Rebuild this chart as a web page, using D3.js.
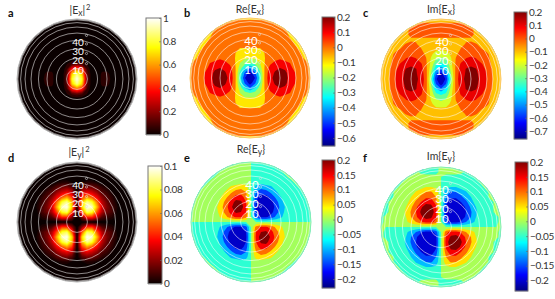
<!DOCTYPE html>
<html>
<head>
<meta charset="utf-8">
<script src="https://cdn.jsdelivr.net/npm/d3@7"></script>
<style>
  html, body { margin: 0; background: #fff; }
  text { font-family: Lato, "Open Sans", sans-serif; }
</style>
</head>
<body>
<div id="chart"></div>
<script>
// quadrant samples: row = distance from centre along y,
// column = distance along x, 13 samples from the centre to the rim
var fieldA = [
  [1.00,.80,.16,.00,.00,.07,.08,.035,.00,0,0,0,0],
  [.90,.70,.14,.01,.00,.065,.07,.025,.00,0,0,0,0],
  [.55,.42,.10,.00,.00,.03,.03,.00,0,0,0,0,0],
  [.14,.11,.05,.00,0,0,0,0,0,0,0,0,0],
  [.01,.01,.00,0,0,0,0,0,0,0,0,0,0],
  [0,0,0,0,0,0,0,0,0,0,0,0,0],
  [0,0,0,0,0,0,0,0,0,0,0,0,0],
  [0,0,0,0,0,0,0,0,0,0,0,0,0],
  [0,0,0,0,0,0,0,0,0,0,0,0,0],
  [0,0,0,0,0,0,0,0,0,0,0,0,0],
  [0,0,0,0,0,0,0,0,0,0,0,0,0],
  [0,0,0,0,0,0,0,0,0,0,0,0,0],
  [0,0,0,0,0,0,0,0,0,0,0,0,0]
]
var fieldB = [
  [-.65,-.50,-.25,.04,.17,.23,.26,.24,.16,.11,.04,.03,.02],
  [-.55,-.42,-.22,.03,.16,.21,.25,.23,.15,.105,.04,.03,.02],
  [-.40,-.30,-.15,.02,.13,.18,.20,.18,.13,.07,.03,.02,.02],
  [-.20,-.17,-.10,.005,.08,.12,.13,.12,.10,.05,.03,.02,-.01],
  [-.09,-.09,-.06,.00,.04,.07,.09,.07,.04,.03,.02,-.01,-.02],
  [-.05,-.05,-.04,.005,.03,.03,.03,.03,.03,.02,.005,-.02,-.02],
  [.00,.00,.00,.01,.02,.02,.02,.02,.02,.01,-.01,-.02,-.02],
  [.02,.02,.02,.02,.02,.02,.02,.02,.02,-.005,-.02,-.02,-.02],
  [.02,.02,.02,.02,.02,.02,.02,.02,.00,-.02,-.02,-.02,-.02],
  [.02,.02,.02,.02,.02,.02,.02,.01,-.01,-.02,-.02,-.02,-.02],
  [.02,.02,.02,.02,.02,.02,.02,.00,-.02,-.02,-.02,-.02,-.02],
  [.02,.02,.02,.02,.02,.02,.00,-.02,-.02,-.02,-.02,-.02,-.02],
  [-.01,-.01,-.01,-.01,-.01,-.01,-.02,-.02,-.02,-.02,-.02,-.02,-.02]
]
var fieldC = [
  [-.75,-.58,-.25,.05,.17,.22,.26,.24,.16,.11,.02,-.04,-.05],
  [-.65,-.50,-.20,.04,.16,.21,.25,.23,.15,.11,.02,-.04,-.05],
  [-.48,-.38,-.16,.03,.14,.205,.22,.205,.14,.09,.01,-.04,-.05],
  [-.32,-.28,-.13,.02,.115,.16,.18,.16,.115,.06,.00,-.04,-.05],
  [-.23,-.20,-.11,.01,.06,.105,.12,.105,.06,.03,-.01,-.04,-.05],
  [-.15,-.14,-.08,-.02,.04,.07,.08,.07,.04,.02,-.02,-.05,-.05],
  [-.08,-.08,-.07,-.04,.005,.03,.04,.03,.005,-.02,-.04,-.05,-.05],
  [-.06,-.06,-.06,-.05,-.02,.005,.01,.005,-.02,-.04,-.05,-.05,-.05],
  [-.01,-.01,-.01,-.01,-.01,-.01,-.01,-.04,-.05,-.05,-.05,-.05,-.05],
  [.03,.03,.03,.03,.03,.03,.03,-.02,-.04,-.05,-.05,-.05,-.05],
  [.03,.03,.03,.03,.03,.03,.02,-.03,-.05,-.05,-.05,-.05,-.05],
  [.01,.01,.01,.01,.01,-.01,-.03,-.05,-.05,-.05,-.05,-.05,-.05],
  [-.03,-.03,-.03,-.03,-.03,-.05,-.05,-.05,-.05,-.05,-.05,-.05,-.05]
]
var fieldD = [
  [0,0,0,0,0,0,0,0,0,0,0,0,0],
  [0,.020,.045,.045,.030,.012,.008,.005,.001,0,0,0,0],
  [0,.050,.085,.080,.050,.026,.016,.010,.002,0,0,0,0],
  [0,.070,.100,.095,.065,.032,.018,.010,.003,0,0,0,0],
  [0,.065,.090,.080,.055,.028,.015,.008,.002,0,0,0,0],
  [0,.045,.060,.050,.035,.020,.012,.006,.001,0,0,0,0],
  [0,.028,.035,.030,.022,.012,.008,.003,0,0,0,0,0],
  [0,.012,.018,.016,.012,.006,.003,0,0,0,0,0,0],
  [0,.002,.004,.004,.002,0,0,0,0,0,0,0,0],
  [0,0,0,0,0,0,0,0,0,0,0,0,0],
  [0,0,0,0,0,0,0,0,0,0,0,0,0],
  [0,0,0,0,0,0,0,0,0,0,0,0,0],
  [0,0,0,0,0,0,0,0,0,0,0,0,0]
]
// e and f: top-left quadrant, the other three follow with the sign flipped
var fieldE = [
  [0,0,0,0,0,0,0,0,0,0,0,0,0],
  [0,.12,.16,.16,.13,.09,.06,.02,.01,.01,.01,.01,.01],
  [0,.15,.20,.21,.17,.12,.08,.03,.01,.01,.01,.01,.01],
  [0,.16,.23,.24,.19,.13,.085,.04,.01,.01,.01,.01,.01],
  [0,.15,.21,.22,.17,.12,.07,.02,.01,.01,.01,.01,.01],
  [0,.13,.17,.17,.13,.09,.05,.01,.01,.01,.01,.01,-.01],
  [0,.10,.13,.12,.09,.06,.02,.01,.01,.01,.01,-.01,-.01],
  [0,.07,.08,.07,.06,.02,.01,.01,.01,.01,-.01,-.01,-.01],
  [0,.02,.03,.02,.01,.01,.01,.01,.01,-.01,-.01,-.01,-.01],
  [0,.01,.01,.01,.01,.01,.01,.005,-.01,-.01,-.01,-.01,-.01],
  [0,.01,.01,.01,.01,.01,.005,-.01,-.01,-.01,-.01,-.01,-.01],
  [0,.01,.01,.01,.01,.01,-.01,-.01,-.01,-.01,-.01,-.01,-.01],
  [0,.01,.01,.01,.01,.01,-.01,-.01,-.01,-.01,-.01,-.01,-.01]
]
var fieldF = [
  [0,0,0,0,0,0,0,0,0,0,0,0,0],
  [0,.13,.17,.17,.14,.10,.07,.04,.01,.01,.01,.01,-.01],
  [0,.16,.21,.22,.19,.14,.10,.05,.015,.01,.01,.01,-.01],
  [0,.17,.24,.25,.21,.15,.105,.06,.02,.01,.01,-.01,-.01],
  [0,.16,.22,.23,.19,.14,.09,.05,.015,.01,.01,-.01,-.01],
  [0,.13,.18,.18,.15,.11,.07,.03,.01,.01,.01,-.01,-.01],
  [0,.10,.14,.14,.11,.08,.05,.02,.01,.01,-.01,-.01,-.01],
  [0,.08,.105,.10,.08,.055,.02,.01,.01,.01,-.01,-.01,-.01],
  [0,.04,.05,.05,.03,.02,.01,.01,.01,-.01,-.01,-.01,-.01],
  [0,.01,.01,.01,.01,.01,.01,.01,-.005,-.01,-.01,-.01,-.01],
  [0,.01,.01,.01,.01,.01,.01,-.005,-.01,-.01,-.01,-.01,-.01],
  [-.01,-.01,-.01,-.01,-.005,.005,.01,-.01,-.01,-.01,-.01,-.01,-.01],
  [-.01,-.01,-.01,-.01,-.01,-.01,-.01,-.01,-.01,-.01,-.01,-.01,-.01]
]

var ticksA = [0, .2, .4, .6, .8, 1]
var ticksB = [-.6, -.5, -.4, -.3, -.2, -.1, 0, .1, .2]
var ticksC = [-.7, -.6, -.5, -.4, -.3, -.2, -.1, 0, .1, .2]
var ticksD = [0, .02, .04, .06, .08, .1]
var ticksE = [-.2, -.15, -.1, -.05, 0, .05, .1, .15, .2]
var ticksF = [-.2, -.15, -.1, -.05, 0, .05, .1, .15, .2]

// band levels of the filled contours
var levelsA = [0, .05, .1, .15, .2, .25, .3, .35, .4, .45, .5, .55, .6, .65, .7, .75, .8, .85, .9, .95]
var levelsB = [-.6, -.5, -.4, -.3, -.2, -.1, 0, .1, .2]
var levelsC = [-.7, -.6, -.5, -.4, -.3, -.2, -.1, 0, .1, .2]
var levelsD = d3.range(0, .1, .0025)
var levelsE = [-.2, -.15, -.1, -.05, 0, .05, .1, .15, .2]
var levelsF = [-.2, -.15, -.1, -.05, 0, .05, .1, .15, .2]

var angleRings = [10, 20, 30, 40, 50, 60, 70, 80, 90]
var angleLabels = [10, 20, 30, 40]

var jetMap = d3.scaleLinear()
  .domain([0, .125, .375, .625, .875, 1])
  .range(["#000080", "#0000ff", "#00ffff", "#ffff00", "#ff0000", "#800000"])
  .clamp(true)
var hotMap = d3.scaleLinear()
  .domain([0, .365, .746, 1])
  .range(["#0a0000", "#ff0000", "#ffff00", "#ffffff"])
  .clamp(true)

var width = 555, height = 299, radius = 60

var svg = d3.select("#chart").append("svg")
  .attr("width", width)
  .attr("height", height)
  .style("display", "block")

var layout = [
  {id: "a", head: ["|E", "x", "|", "2"], field: fieldA, levels: levelsA, ticks: ticksA, map: hotMap, dom: [0, 1], flip: false,
   cx: 77, cy: 79, titleY: 14, titleX: 80, letterX: 8, letterY: 17, bar: [146, 161, 18, 134.5], rim: "#b5b5b5", labelSize: 10},
  {id: "b", head: ["Re{E", "x", "}"], field: fieldB, levels: levelsB, ticks: ticksB, map: jetMap, dom: [-.653, .2], flip: false,
   cx: 250, cy: 78, titleY: 13, titleX: 250, letterX: 184, letterY: 17, bar: [322, 335, 17, 146], rim: "#ffc860", labelSize: 11.5},
  {id: "c", head: ["Im{E", "x", "}"], field: fieldC, levels: levelsC, ticks: ticksC, map: jetMap, dom: [-.76, .2], flip: false,
   cx: 441, cy: 79, titleY: 13, titleX: 441, letterX: 363, letterY: 17, bar: [514, 527, 12, 139], rim: "#ffc860", labelSize: 11.5},
  {id: "d", head: ["|E", "y", "|", "2"], field: fieldD, levels: levelsD, ticks: ticksD, map: hotMap, dom: [0, .1], flip: false,
   cx: 77, cy: 222, titleY: 156, titleX: 79, letterX: 8, letterY: 162, bar: [148, 162, 166, 283.5], rim: "#b5b5b5", labelSize: 10},
  {id: "e", head: ["Re{E", "y", "}"], field: fieldE, levels: levelsE, ticks: ticksE, map: jetMap, dom: [-.23, .2], flip: true,
   cx: 251, cy: 222, titleY: 153, titleX: 251, letterX: 184, letterY: 162, bar: [322, 335, 160, 288], rim: "#80f0b0", labelSize: 11.5},
  {id: "f", head: ["Im{E", "y", "}"], field: fieldF, levels: levelsF, ticks: ticksF, map: jetMap, dom: [-.235, .2], flip: true,
   cx: 441, cy: 227, titleY: 160, titleX: 441, letterX: 363, letterY: 162, bar: [515, 528, 162, 291], rim: "#80f0b0", labelSize: 11.5}
]

// quadrant -> full grid, the centre row and column are shared
function full_grid(field, flip) {
  var n = field.length, size = 2 * n - 1, values = []
  for (var r = 0; r < size; r++) {
    for (var c = 0; c < size; c++) {
      var row = Math.abs(r - (n - 1)), col = Math.abs(c - (n - 1))
      var sign = (flip && ((r < n - 1) != (c < n - 1))) ? -1 : 1
      values.push(field[row][col] * sign)
    }
  }
  return {size: size, values: values}
}

layout.forEach(function(p) {
  var g = svg.append("g").attr("class", "panel-" + p.id)

  var grid = full_grid(p.field, p.flip)
  // sample i of the grid sits at i + .5 in contour coordinates
  var x = d3.scaleLinear().domain([.5, grid.size - .5]).range([p.cx - radius, p.cx + radius])
  var y = d3.scaleLinear().domain([.5, grid.size - .5]).range([p.cy - radius, p.cy + radius])
  var t = d3.scaleLinear().domain(p.dom).range([0, 1])
  var color = function(v) { return p.map(t(v)) }

  g.append("clipPath").attr("id", "disc-" + p.id)
    .append("circle").attr("cx", p.cx).attr("cy", p.cy).attr("r", radius)

  var contours = d3.contours().size([grid.size, grid.size]).thresholds(p.levels.slice(1))(grid.values)
  var project = d3.geoTransform({point: function(a, b) { this.stream.point(x(a), y(b)) }})
  var path = d3.geoPath(project)

  var disc = g.append("g").attr("clip-path", "url(#disc-" + p.id + ")")
  disc.append("circle").attr("cx", p.cx).attr("cy", p.cy).attr("r", radius).attr("fill", color(p.levels[0]))
  disc.selectAll("path").data(contours).enter().append("path")
    .attr("d", path)
    .attr("fill", function(d) { return color(d.value) })

  // rings sit at 60*sin(angle)
  var ring = d3.scaleLinear().domain([0, 1]).range([0, radius])
  g.selectAll(".ring").data(angleRings).enter().append("circle")
    .attr("class", "ring")
    .attr("cx", p.cx).attr("cy", p.cy)
    .attr("r", function(d) { return ring(Math.sin(d * Math.PI / 180)) })
    .attr("fill", "none")
    .attr("stroke", "#fff").attr("stroke-opacity", .6).attr("stroke-width", .9)

  g.append("circle").attr("cx", p.cx).attr("cy", p.cy).attr("r", radius)
    .attr("fill", "none").attr("stroke", p.rim).attr("stroke-width", 1)

  var lab = g.selectAll(".angle").data(angleLabels).enter().append("g").attr("class", "angle")
    .attr("transform", function(d) {
      return "translate(" + (p.cx + 1) + "," + (p.cy - ring(Math.sin(d * Math.PI / 180)) + 2) + ")"
    })
  lab.append("text").attr("text-anchor", "middle").attr("dy", ".35em")
    .attr("fill", "#fff").style("font-size", p.labelSize + "px")
    .text(function(d) { return d })
  lab.append("circle").attr("cx", 8.5).attr("cy", -7).attr("r", 1.1)
    .attr("fill", "none").attr("stroke", "#ddd").attr("stroke-width", .6)

  // title
  var title = g.append("text").attr("x", p.titleX).attr("y", p.titleY)
    .attr("text-anchor", "middle").attr("fill", "#333").style("font-size", "10.5px")
  title.append("tspan").text(p.head[0])
  title.append("tspan").attr("dy", 2).style("font-size", "8.5px").text(p.head[1])
  title.append("tspan").attr("dy", -2).text(p.head[2])
  if (p.head[3]) title.append("tspan").attr("dy", -4).attr("dx", 1).style("font-size", "7.5px").text(p.head[3])

  g.append("text").attr("x", p.letterX).attr("y", p.letterY)
    .attr("fill", "#111").style("font-size", "11px").style("font-weight", "bold").text(p.id)

  // colour bar
  var b = p.bar
  var bar = d3.scaleLinear().domain(p.dom).range([b[3], b[2]])
  g.selectAll(".strip").data(d3.range(b[2], b[3], 1)).enter().append("rect")
    .attr("class", "strip")
    .attr("x", b[0]).attr("y", function(d) { return d })
    .attr("width", b[1] - b[0]).attr("height", 1.2)
    .attr("fill", function(d) { return p.map(t(bar.invert(d + .5))) })
  g.append("rect").attr("x", b[0]).attr("y", b[2])
    .attr("width", b[1] - b[0]).attr("height", b[3] - b[2])
    .attr("fill", "none").attr("stroke", "#777").attr("stroke-width", 1)

  var axis = d3.axisRight(bar).tickValues(p.ticks).tickSize(-2).tickPadding(2).tickFormat(d3.format("~g"))
  var ax = g.append("g").attr("transform", "translate(" + b[1] + ",0)").call(axis)
  ax.select(".domain").remove()
  ax.selectAll("line").attr("stroke", "#666").attr("stroke-width", .6)
  ax.selectAll("text").attr("fill", "#333").style("font-size", "10px").style("letter-spacing", "-.3px")
    .style("font-family", "Lato, 'Open Sans', sans-serif")
})
</script>
</body>
</html>
